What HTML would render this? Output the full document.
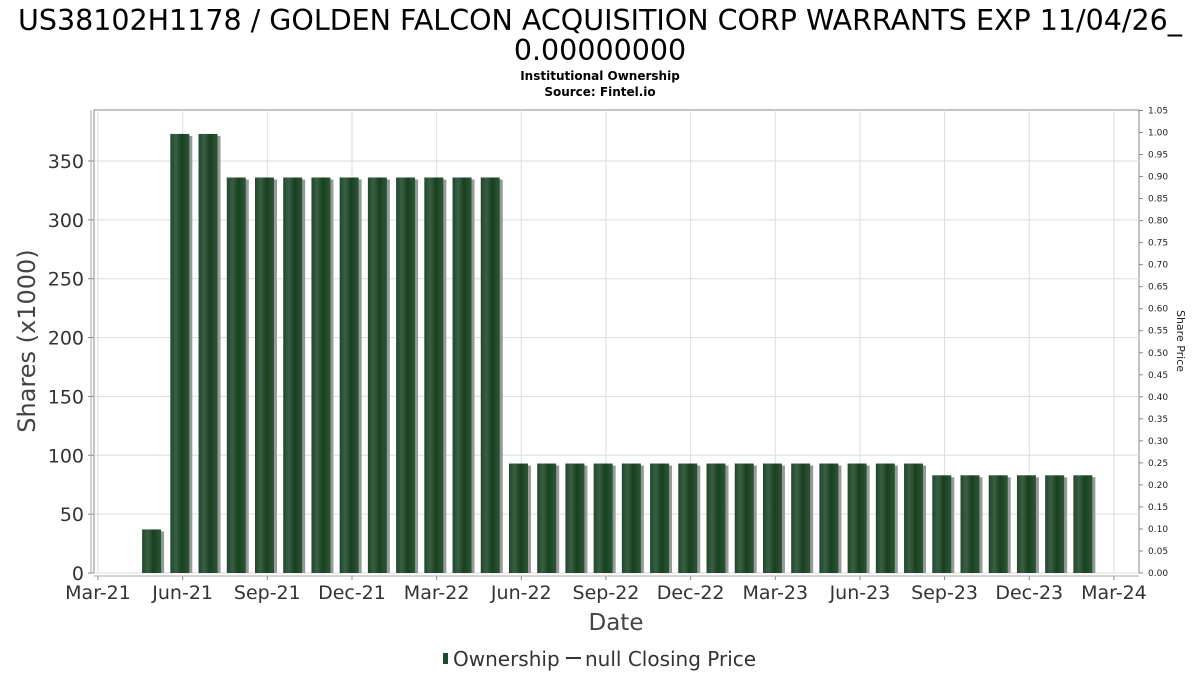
<!DOCTYPE html>
<html><head><meta charset="utf-8"><style>
body{margin:0;background:#fff;font-family:"DejaVu Sans","Liberation Sans",sans-serif}
</style></head><body>
<svg width="1200" height="675" xmlns="http://www.w3.org/2000/svg" font-family="DejaVu Sans, Liberation Sans, sans-serif">
<defs>
<linearGradient id="bg" x1="0" x2="1" y1="0" y2="0">
<stop offset="0" stop-color="#1d4a2b"/><stop offset="0.3" stop-color="#3a5e44"/><stop offset="0.6" stop-color="#17401f"/><stop offset="1" stop-color="#2e5538"/>
</linearGradient>
</defs>
<text x="600" y="30" font-size="28.5" text-anchor="middle" fill="#000">US38102H1178 / GOLDEN FALCON ACQUISITION CORP WARRANTS EXP 11/04/26_</text>
<text x="600" y="60" font-size="28.5" text-anchor="middle" fill="#000">0.00000000</text>
<text x="600" y="80" font-size="12" font-weight="bold" text-anchor="middle">Institutional Ownership</text>
<text x="600" y="96" font-size="12" font-weight="bold" text-anchor="middle">Source: Fintel.io</text>
<rect x="94" y="110" width="1045" height="463" fill="#fff" stroke="#888"/>
<g id="grid"></g><g id="bars"></g><g id="axes"></g>
<text x="616" y="630" font-size="23" text-anchor="middle" fill="#444">Date</text>
<text transform="translate(35,341) rotate(-90)" font-size="24" text-anchor="middle" fill="#444">Shares (x1000)</text>
<text transform="translate(1177,341) rotate(90)" font-size="11" text-anchor="middle" fill="#222">Share Price</text>
<g>
<rect x="443" y="653" width="5" height="11" fill="#1d4a2b"/>
<text x="453" y="666" font-size="20" fill="#333">Ownership</text>
<line x1="566" y1="658" x2="581" y2="658" stroke="#333" stroke-width="2"/>
<text x="585" y="666" font-size="20" fill="#333">null Closing Price</text>
</g>
</svg>
<script>
const values=[37,373,373,336,336,336,336,336,336,336,336,336,336,93,93,93,93,93,93,93,93,93,93,93,93,93,93,93,83,83,83,83,83,83];
const yTicks=[0,50,100,150,200,250,300,350];
const y2Ticks=["0.00","0.05","0.10","0.15","0.20","0.25","0.30","0.35","0.40","0.45","0.50","0.55","0.60","0.65","0.70","0.75","0.80","0.85","0.90","0.95","1.00","1.05"];
const xLabels=["Mar-21","Jun-21","Sep-21","Dec-21","Mar-22","Jun-22","Sep-22","Dec-22","Mar-23","Jun-23","Sep-23","Dec-23","Mar-24"];
const NS="http://www.w3.org/2000/svg";
const xM=m=>98+m*28.22;
const y=v=>573-v*1.1771;
const y2=v=>573-v*440.5;
function mk(t,a,p){const e=document.createElementNS(NS,t);for(const k in a)e.setAttribute(k,a[k]);p.appendChild(e);return e;}
const grid=document.getElementById('grid'),bars=document.getElementById('bars'),axes=document.getElementById('axes');
yTicks.forEach(v=>{
 const l=mk('line',{x1:94,x2:1139,y1:y(v),y2:y(v),stroke:'#ddd'},grid);
 
 
 const t=mk('text',{x:84,y:y(v)+7,'font-size':19,'text-anchor':'end',fill:'#333'},axes);
 t.textContent=v;
 
 
 mk('line',{x1:88,x2:94,y1:y(v),y2:y(v),stroke:'#888'},axes);
});
xLabels.forEach((s,i)=>{
 const x=xM(i*3);
 const l=mk('line',{x1:x,x2:x,y1:110,y2:573,stroke:'#ddd'},grid);
 
 
 mk('line',{x1:x,x2:x,y1:576,y2:580,stroke:'#888'},axes);
 const t=mk('text',{x:x,y:599,'font-size':19,'text-anchor':'middle',fill:'#333'},axes);
 t.textContent=s;
 
 
});
mk('line',{x1:94,x2:1139,y1:576,y2:576,stroke:'#aaa'},axes);
mk('line',{x1:91,x2:91,y1:110,y2:573,stroke:'#aaa'},axes);
y2Ticks.forEach(s=>{
 const v=parseFloat(s);
 mk('line',{x1:1139,x2:1143,y1:y2(v),y2:y2(v),stroke:'#888'},axes);
 const t=mk('text',{x:1148,y:y2(v)+3,'font-size':9,fill:'#222'},axes);
 t.textContent=s;
 
 
});
values.forEach((v,i)=>{
 const cx=xM(i+1.9), w=19, top=y(v);
 const sh=mk('rect',{x:cx-w/2+3,y:top+2,width:w,height:573-top-2,fill:'#999'},bars);
 
 
 const r=mk('rect',{x:cx-w/2,y:top,width:w,height:573-top,fill:'url(#bg)'},bars);
 
 
});
</script>
</body></html>
